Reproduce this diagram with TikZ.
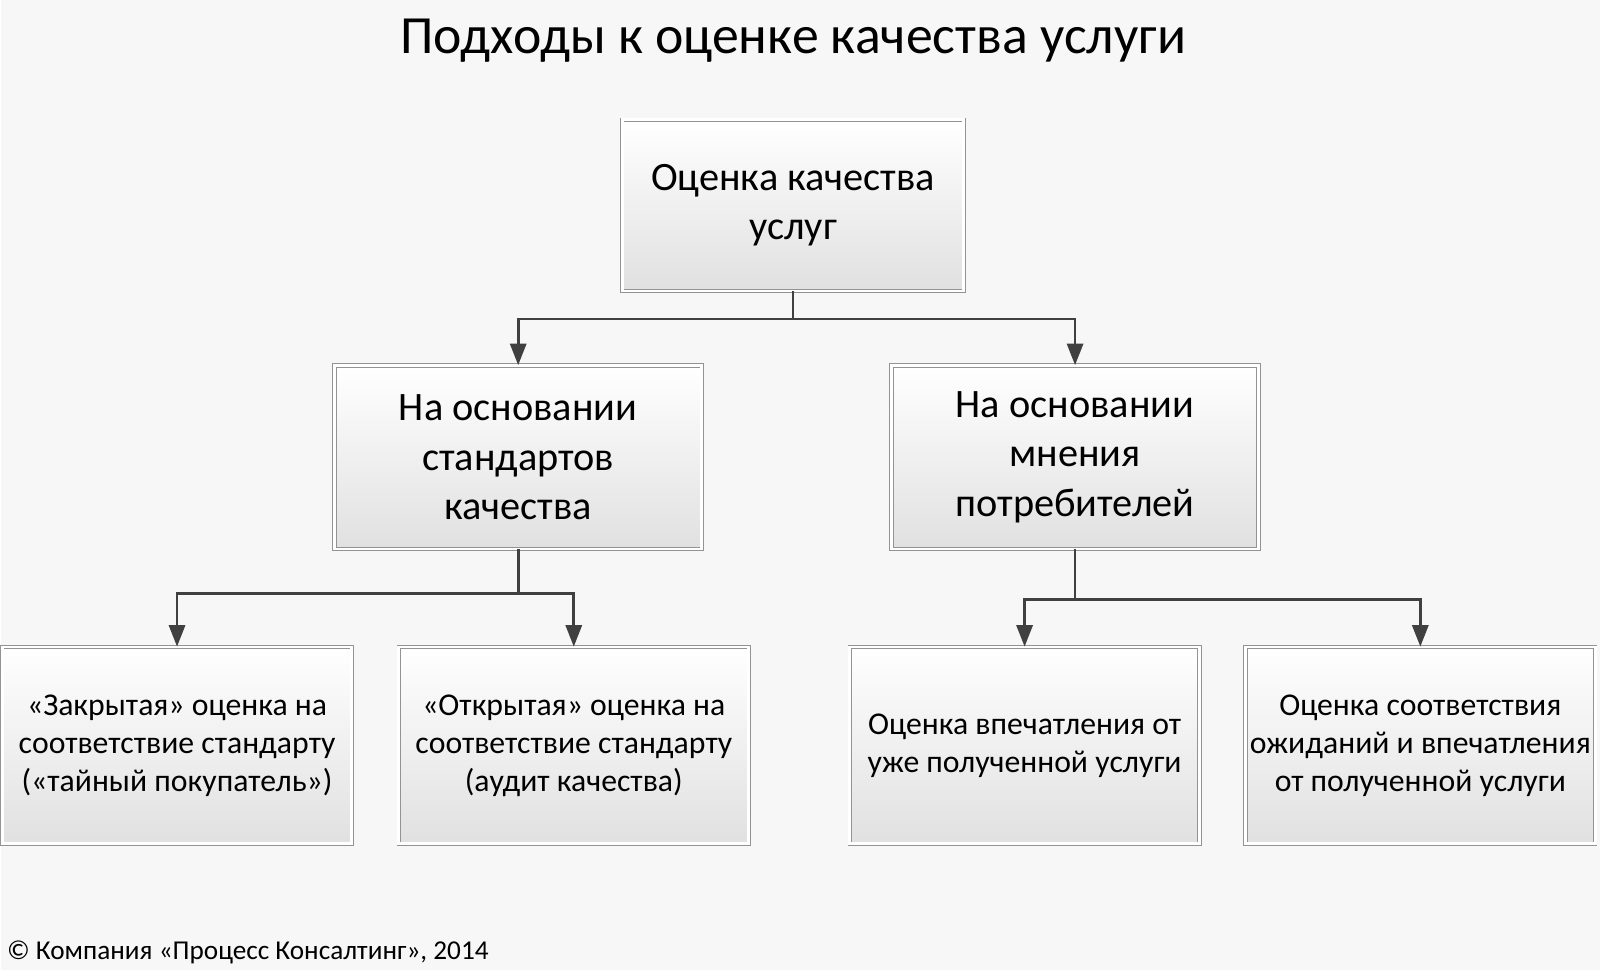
\documentclass[tikz,border=0pt]{standalone}
\usepackage{fontspec}
\setmainfont{Carlito}
\usetikzlibrary{arrows.meta}
\begin{document}
\begin{tikzpicture}[x=0.02cm,y=-0.02cm,
 box/.style={draw=gray!85,double=white,double distance=1.6pt,top color=white,bottom color=gray!24,
   inner sep=0pt,align=center,anchor=north west},
 mid/.style={box,minimum width=7.2cm,minimum height=3.6cm,font=\fontsize{22.5}{27.5}\selectfont},
 low/.style={box,minimum width=6.86cm,minimum height=3.86cm,font=\fontsize{17.7}{21.2}\selectfont},
 arr/.style={draw=black!75,line width=1.5pt,-{Triangle[width=9pt,length=12pt]}}]
\fill[gray!6] (0,0) rectangle (1568,951);
\node[font=\fontsize{30}{34}\selectfont] (title) at (777,40) {Подходы к оценке качества услуги};
\node[mid,minimum width=6.7cm,minimum height=3.36cm] (top) at (609,117) {Оценка качества\\услуг};
\node[mid] (ml) at (327,358) {На основании\\стандартов\\качества};
\node[mid] (mr) at (873,358) {На основании\\мнения\\потребителей};
\node[low] (b1) at (1,634) {«Закрытая» оценка на\\соответствие стандарту\\(«тайный покупатель»)};
\node[low] (b2) at (390,634) {«Открытая» оценка на\\соответствие стандарту\\(аудит качества)};
\node[low] (b3) at (832,634) {Оценка впечатления от\\уже полученной услуги};
\node[low] (b4) at (1220,634) {Оценка соответствия\\ожиданий и впечатления\\от полученной услуги};
\draw[arr] (top.south) -- ++(0,27) -| (ml.north);
\draw[arr] (top.south) -- ++(0,27) -| (mr.north);
\draw[arr] (ml.south) -- ++(0,43) -| (b1.north);
\draw[arr] (ml.south) -- ++(0,43) -| (b2.north);
\draw[arr] (mr.south) -- ++(0,49) -| (b3.north);
\draw[arr] (mr.south) -- ++(0,49) -| (b4.north);
\node[anchor=west,font=\fontsize{15.2}{18}\selectfont] (foot) at (0,934) {© Компания «Процесс Консалтинг», 2014};
\end{tikzpicture}
\end{document}
